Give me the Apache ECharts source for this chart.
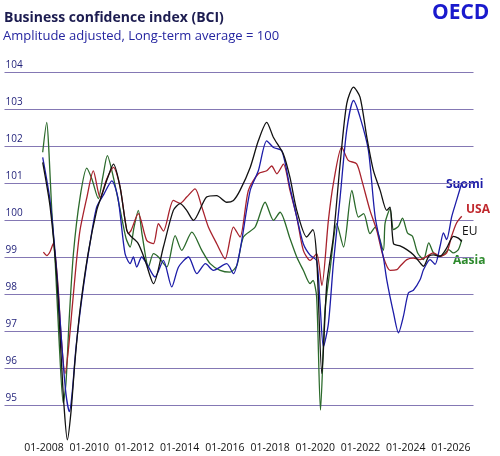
<!DOCTYPE html>
<html>
<head>
<meta charset="utf-8">
<script src="https://cdn.jsdelivr.net/npm/echarts@6/dist/echarts.min.js"></script>
<style>
  html, body { margin: 0; padding: 0; background: #fff; }
  #chart { width: 500px; height: 456px; }
</style>
</head>
<body>
<div id="chart"></div>
<script>
// [vuosi, BCI] pisteet luettu kuvasta
var suomi = [
  [2007.94, 101.69], [2008.27, 100.5], [2008.56, 98.6], [2008.80, 96.5], [2008.97, 95.3],
  [2009.12, 94.82], [2009.24, 95.3], [2009.42, 96.6], [2009.74, 98.19], [2010.04, 99.4],
  [2010.33, 100.35], [2010.65, 100.7], [2011.0, 101.06], [2011.27, 100.6], [2011.58, 99.1],
  [2011.81, 98.82], [2011.95, 99.0], [2012.10, 98.73], [2012.32, 99.0], [2012.54, 98.82],
  [2012.91, 98.46], [2013.28, 98.91], [2013.65, 98.19], [2013.95, 98.73], [2014.39, 99.0],
  [2014.76, 98.55], [2015.14, 98.82], [2015.49, 98.64], [2016.08, 98.82], [2016.38, 98.55],
  [2016.67, 99.18], [2017.12, 100.8], [2017.48, 101.33], [2017.85, 102.14], [2018.15, 101.96],
  [2018.52, 101.87], [2018.88, 100.88], [2019.18, 100.08], [2019.47, 99.36], [2019.77, 99.05],
  [2020.06, 98.9], [2020.21, 97.74], [2020.36, 96.57], [2020.58, 97.2], [2020.80, 98.82],
  [2021.10, 100.62], [2021.39, 102.42], [2021.69, 103.23], [2021.98, 102.78], [2022.35, 101.88],
  [2022.65, 100.08], [2023.01, 99.0], [2023.16, 98.39], [2023.46, 97.49], [2023.68, 96.95],
  [2023.90, 97.4], [2024.12, 98.03], [2024.34, 98.1], [2024.64, 98.39], [2024.79, 98.66],
  [2025.08, 98.93], [2025.30, 98.8], [2025.52, 99.29], [2025.67, 99.65], [2025.81, 99.47],
  [2026.04, 100.1], [2026.26, 100.55], [2026.48, 101.0]
];
var usa = [
  [2007.97, 99.13], [2008.12, 99.04], [2008.27, 99.15], [2008.41, 99.37], [2008.62, 98.2],
  [2008.75, 96.9], [2008.93, 95.85], [2009.06, 96.4], [2009.24, 97.6], [2009.42, 98.8],
  [2009.59, 99.72], [2009.89, 100.6], [2010.18, 101.33], [2010.48, 100.61], [2010.77, 101.1],
  [2011.07, 101.42], [2011.36, 100.9], [2011.73, 99.63], [2011.85, 99.72], [2012.17, 100.17],
  [2012.54, 99.45], [2012.84, 99.36], [2013.06, 99.9], [2013.28, 99.7], [2013.72, 100.53],
  [2014.02, 100.45], [2014.31, 100.62], [2014.68, 100.84], [2014.98, 100.35], [2015.27, 99.81],
  [2015.64, 99.36], [2016.01, 98.95], [2016.38, 99.81], [2016.67, 99.54], [2017.04, 100.8],
  [2017.48, 101.25], [2017.85, 101.33], [2018.07, 101.46], [2018.30, 101.25], [2018.59, 101.51],
  [2018.88, 100.8], [2019.18, 100.08], [2019.47, 99.18], [2019.77, 98.91], [2020.06, 99.09],
  [2020.29, 98.23], [2020.58, 99.99], [2020.80, 100.98], [2021.17, 101.97], [2021.46, 101.61],
  [2021.83, 101.52], [2022.06, 101.07], [2022.42, 100.26], [2022.72, 99.72], [2023.01, 99.0],
  [2023.31, 98.64], [2023.61, 98.66], [2023.75, 98.75], [2024.05, 98.93], [2024.34, 98.97],
  [2024.64, 98.93], [2024.94, 99.02], [2025.23, 99.11], [2025.52, 99.02], [2025.81, 99.11],
  [2026.03, 99.56], [2026.25, 99.92], [2026.48, 100.1]
];
var eu = [
  [2007.94, 101.56], [2008.27, 100.35], [2008.56, 98.46], [2008.75, 96.4], [2008.88, 95.0],
  [2009.03, 94.06], [2009.19, 94.8], [2009.37, 96.2], [2009.59, 97.56], [2009.95, 99.1],
  [2010.33, 100.26], [2010.55, 100.66], [2010.79, 101.1], [2011.07, 101.51], [2011.36, 100.9],
  [2011.66, 99.72], [2011.81, 99.58], [2012.16, 99.37], [2012.47, 98.91], [2012.84, 98.28],
  [2013.28, 99.27], [2013.72, 100.26], [2014.02, 100.44], [2014.31, 100.26], [2014.61, 99.99],
  [2015.19, 100.62], [2015.64, 100.66], [2016.08, 100.48], [2016.38, 100.53], [2016.67, 100.8],
  [2017.12, 101.42], [2017.48, 102.14], [2017.85, 102.64], [2018.15, 102.23], [2018.59, 101.78],
  [2018.88, 101.15], [2019.18, 100.26], [2019.62, 99.54], [2019.89, 99.74], [2020.06, 99.0],
  [2020.29, 95.85], [2020.51, 98.28], [2020.80, 99.54], [2021.10, 101.52], [2021.39, 103.14],
  [2021.69, 103.59], [2021.98, 103.32], [2022.28, 102.24], [2022.57, 101.34], [2022.87, 100.8],
  [2023.16, 100.26], [2023.31, 100.35], [2023.46, 99.36], [2023.75, 99.3], [2024.05, 99.2],
  [2024.34, 99.06], [2024.64, 98.84], [2024.79, 98.75], [2025.02, 99.02], [2025.23, 99.06],
  [2025.52, 99.02], [2025.81, 99.24], [2026.11, 99.56], [2026.33, 99.51], [2026.48, 99.42]
];
var aasia = [
  [2007.94, 101.83], [2008.12, 102.64], [2008.22, 101.8], [2008.34, 100.26], [2008.49, 98.9],
  [2008.66, 96.8], [2008.85, 95.05], [2008.97, 95.6], [2009.11, 97.3], [2009.30, 99.1],
  [2009.59, 100.6], [2009.89, 101.4], [2010.12, 101.1], [2010.40, 100.58], [2010.61, 101.2],
  [2010.80, 101.74], [2011.05, 101.2], [2011.36, 100.3], [2011.63, 99.5], [2011.81, 99.27],
  [2011.98, 99.8], [2012.17, 100.26], [2012.34, 99.6], [2012.62, 98.73], [2012.84, 99.09],
  [2013.06, 99.0], [2013.43, 98.73], [2013.80, 99.58], [2014.09, 99.18], [2014.54, 99.67],
  [2014.98, 99.18], [2015.35, 98.82], [2015.79, 98.64], [2016.23, 98.59], [2016.53, 98.77],
  [2016.82, 99.54], [2017.34, 99.81], [2017.78, 100.48], [2018.15, 99.99], [2018.44, 100.21],
  [2018.88, 99.5], [2019.18, 99.0], [2019.47, 98.64], [2019.77, 98.28], [2019.90, 98.37],
  [2020.06, 97.92], [2020.23, 94.86], [2020.43, 97.56], [2020.65, 98.64], [2020.95, 99.9],
  [2021.25, 99.27], [2021.62, 100.8], [2021.91, 100.08], [2022.14, 100.17], [2022.42, 99.63],
  [2022.65, 99.81], [2023.01, 99.18], [2023.09, 99.92], [2023.31, 100.3], [2023.46, 99.74],
  [2023.68, 99.83], [2023.86, 100.05], [2024.08, 99.65], [2024.30, 99.56], [2024.53, 99.11],
  [2024.79, 98.93], [2025.02, 99.38], [2025.23, 99.11], [2025.46, 99.02], [2025.68, 99.06],
  [2025.90, 99.2], [2026.11, 99.11], [2026.33, 99.2], [2026.48, 99.47]
];
var yTicks = { min: 95, max: 104, step: 1 };
var xYears = { min: 2006.25, max: 2027, step: 0.25 };

var chart = echarts.init(document.getElementById('chart'));
var font = 'Open Sans';

function line(name, data, color) {
  return {
    name: name,
    type: 'line',
    data: data,
    smooth: 0.25,
    showSymbol: false,
    clip: false,
    lineStyle: { color: color, width: 1.3 },
    itemStyle: { color: color }
  };
}

var option = {
  animation: false,
  grid: { left: 4.5, right: 26.5, top: 72, bottom: 51 },
  xAxis: {
    type: 'value',
    min: xYears.min,
    max: xYears.max,
    interval: xYears.step,
    axisLine: { show: false },
    axisTick: { show: false },
    splitLine: { show: false },
    axisLabel: {
      margin: 38,
      fontFamily: font,
      fontSize: 10.5,
      color: '#111',
      formatter: function (v) {
        var r = Math.round(v);
        if (Math.abs(v - r) < 1e-6 && r % 2 === 0 && r >= 2008) return '01-' + r;
        return '';
      }
    }
  },
  yAxis: {
    type: 'value',
    min: yTicks.min,
    max: yTicks.max,
    interval: yTicks.step,
    axisLine: { show: false },
    axisTick: { show: false },
    axisLabel: {
      inside: true,
      margin: 1,
      verticalAlign: 'bottom',
      padding: [0, 0, 2, 0],
      fontFamily: font,
      fontSize: 10,
      color: '#1e1e78'
    },
    splitLine: { lineStyle: { color: '#8478b4', width: 1.2 } }
  },
  series: [
    line('Aasia', aasia, '#2b6a2b'),
    line('USA', usa, '#a8222c'),
    line('Suomi', suomi, '#1c1ca8'),
    line('EU', eu, '#111111')
  ],
  graphic: [
    { type: 'text', left: 4, top: 11, style: { text: 'Business confidence index (BCI)', font: 'bold 14px "Open Sans"', fill: '#1c1c50' } },
    { type: 'text', left: 3, top: 30, style: { text: 'Amplitude adjusted, Long-term average = 100', font: '13px "Open Sans"', fill: '#2525a0' } },
    { type: 'text', left: 432, top: 3, style: { text: 'OECD', font: 'bold 21px "Open Sans"', fill: '#1a1acd' } },
    { type: 'text', left: 446, top: 179, style: { text: 'Suomi', font: 'bold 12px "Open Sans"', fill: '#1c1ca8' } },
    { type: 'text', left: 466, top: 204, style: { text: 'USA', font: 'bold 12px "Open Sans"', fill: '#c0282d' } },
    { type: 'text', left: 462, top: 226, style: { text: 'EU', font: '12px "Open Sans"', fill: '#111' } },
    { type: 'text', left: 453, top: 255, style: { text: 'Aasia', font: 'bold 12px "Open Sans"', fill: '#2e8b2e' } }
  ]
};

chart.setOption(option);
</script>
</body>
</html>
